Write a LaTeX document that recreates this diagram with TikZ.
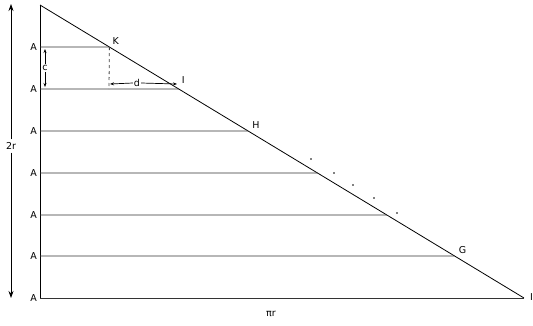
\documentclass[tikz,border=0pt]{standalone}
\usepackage{fontspec}
\setmainfont{DejaVu Sans}
\usetikzlibrary{arrows.meta}
\begin{document}
\begin{tikzpicture}[x=1pt,y=-1pt,
  lbl/.style={font=\fontsize{9.5}{11}\selectfont, inner sep=1pt},
  edge/.style={line width=0.8pt, black},
  strip/.style={line width=0.9pt, black!80},
  dim/.style={line width=0.7pt, -{Stealth[length=4pt,width=3pt]}},
  dot/.style={circle, fill=black, inner sep=0pt, minimum size=1.6pt}]
\useasboundingbox (0,0) rectangle (533,325);
% main triangle corners
\coordinate (T) at (40,5);
\coordinate (O) at (40,298);
\coordinate (R) at (524,298);
\draw[edge] (T) -- (O);
\draw[edge] (T) -- (R);
% strips
\foreach \y/\nm in {47/1,89/2,131/3,173/4,215/5,256/6,298/7}{
  \coordinate (L\nm) at (40,\y);
  \path (T) -- (R) coordinate[pos={(\y-5)/293}] (P\nm);
  \draw[strip] (L\nm) -- (P\nm);
  \node[lbl, anchor=east] (A\nm) at (38,\y) {A};
}
% point labels
\node[lbl, anchor=south west] (K) at ([xshift=2pt,yshift=1pt]P1) {K};
\node[lbl, anchor=south west] (I) at ([xshift=2pt,yshift=4pt]P2) {I};
\node[lbl, anchor=south west] (H) at ([xshift=3pt,yshift=1pt]P3) {H};
\node[lbl, anchor=south west] (G) at ([xshift=3pt,yshift=1pt]P6) {G};
\node[lbl, anchor=west] (I2) at (529,297) {I};
% dashed vertical
\draw[line width=0.8pt, black!75, dashed] (P1) -- (109,89) coordinate (D);
% c arrow
\node[lbl] (c) at (45,68) {c};
\draw[dim] (c.north) -- (45,49);
\draw[dim] (c.south) -- (45,87);
% d arrow
\node[lbl] (d) at (137,83) {d};
\draw[dim] (d.west) -- (110,84);
\draw[dim] (d.east) -- (177,84);
% 2r arrow
\node[lbl, inner sep=3pt] (tr) at (11,146) {2r};
\draw[line width=0.8pt, -{Stealth[length=7pt,width=5pt]}] (tr.north) -- (11,4);
\draw[line width=0.8pt, -{Stealth[length=7pt,width=5pt]}] (tr.south) -- (11,298);
% pi r
\node[lbl] (pr) at (271,314) {πr};
% dots
\foreach \x/\y [count=\i] in {311/159,334/173,353/185,374/198,397/213}{
  \node[dot] (dt\i) at (\x,\y) {};
}
\end{tikzpicture}
\end{document}
